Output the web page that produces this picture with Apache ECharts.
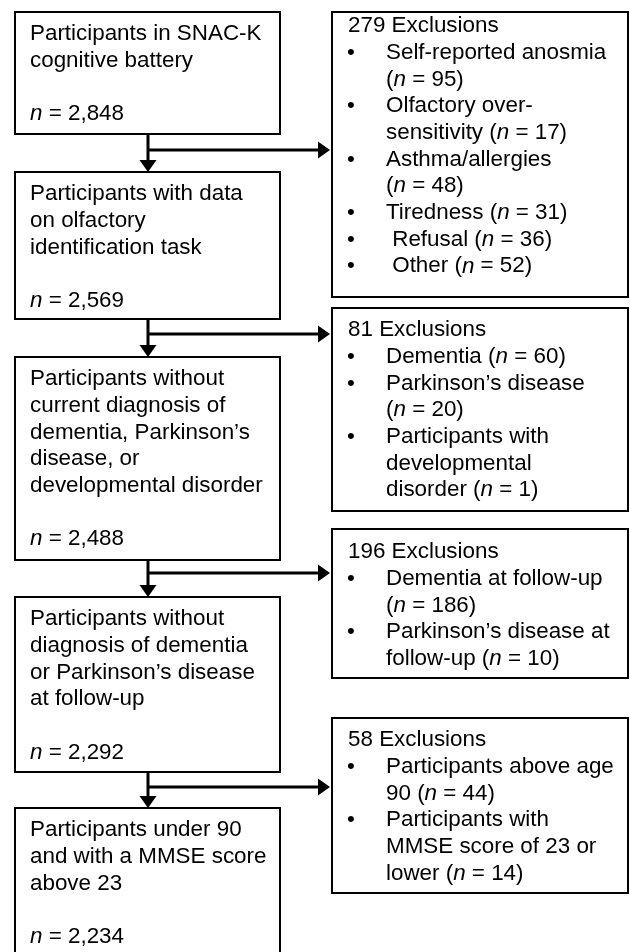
<!DOCTYPE html>
<html>
<head>
<meta charset="utf-8">
<script src="https://cdn.jsdelivr.net/npm/echarts@6/dist/echarts.min.js"></script>
<style>
  html, body { margin: 0; padding: 0; background: #fff; }
  #chart-container { width: 630px; height: 952px; }
</style>
</head>
<body>
<div id="chart-container"></div>
<script>
// flow stages (left column)
var stageLines = [
  ['Participants in SNAC-K', 'cognitive battery'],
  ['Participants with data', 'on olfactory', 'identification task'],
  ['Participants without', 'current diagnosis of', 'dementia, Parkinson\u2019s', 'disease, or', 'developmental disorder'],
  ['Participants without', 'diagnosis of dementia', 'or Parkinson\u2019s disease', 'at follow-up'],
  ['Participants under 90', 'and with a MMSE score', 'above 23']
];
var stageCounts = ['2,848', '2,569', '2,488', '2,292', '2,234'];

// exclusions (right column)
var exclusionTotals = [279, 81, 196, 58];
var reasonLines = [
  [['Self-reported anosmia', ''], ['Olfactory over-', 'sensitivity '], ['Asthma/allergies', ''], ['Tiredness '], [' Refusal '], [' Other ']],
  [['Dementia '], ['Parkinson\u2019s disease', ''], ['Participants with', 'developmental', 'disorder ']],
  [['Dementia at follow-up', ''], ['Parkinson\u2019s disease at', 'follow-up ']],
  [['Participants above age', '90 '], ['Participants with', 'MMSE score of 23 or', 'lower ']]
];
var reasonCounts = [
  [95, 17, 48, 31, 36, 52],
  [60, 20, 1],
  [186, 10],
  [44, 14]
];

// layout (pixel space of the hidden axes)
var leftX = [15, 280];
var rightX = [332, 628];
var leftBoxY = [[12, 134], [172, 319], [357, 560], [597, 772], [808, 990]];
var rightBoxY = [[12, 297], [308, 511], [529, 678], [718, 893]];
var headerY = [26, 330, 552, 740];
var branchY = [150, 334, 573, 787];
var stemX = 148;
var LH = 26.7;

var FONT_FAMILY = '"Liberation Sans", Arial, Helvetica, sans-serif';
var FONT_SIZE = 22.4;
var rich = { i: { fontStyle: 'italic', fontSize: FONT_SIZE, fontFamily: FONT_FAMILY, fill: '#000' } };

function textEl(x, y, str) {
  return {
    type: 'text',
    x: x,
    y: y,
    style: {
      text: str,
      fontSize: FONT_SIZE,
      fontFamily: FONT_FAMILY,
      fill: '#000',
      verticalAlign: 'middle',
      align: 'left',
      rich: rich
    }
  };
}

function boxEl(p0, p1) {
  return {
    type: 'rect',
    shape: { x: p0[0], y: p0[1], width: p1[0] - p0[0], height: p1[1] - p0[1] },
    style: { fill: '#fff', stroke: '#000', lineWidth: 2 }
  };
}

function renderStage(params, api) {
  var i = params.dataIndex;
  var p0 = api.coord([leftX[0], leftBoxY[i][0]]);
  var p1 = api.coord([leftX[1], leftBoxY[i][1]]);
  var lines = stageLines[i].concat(['', '{i|n} = ' + stageCounts[i]]);
  var children = [boxEl(p0, p1)];
  lines.forEach(function (l, k) {
    if (l) children.push(textEl(p0[0] + 15, p0[1] + 22 + k * LH, l));
  });
  return { type: 'group', children: children };
}

function renderExclusion(params, api) {
  var i = params.dataIndex;
  var p0 = api.coord([rightX[0], rightBoxY[i][0]]);
  var p1 = api.coord([rightX[1], rightBoxY[i][1]]);
  var y0 = api.coord([0, headerY[i]])[1];
  var children = [boxEl(p0, p1)];
  children.push(textEl(p0[0] + 16, y0, exclusionTotals[i] + ' Exclusions'));
  var k = 1;
  reasonLines[i].forEach(function (item, r) {
    children.push(textEl(p0[0] + 15, y0 + k * LH, '\u2022'));
    item.forEach(function (l, j) {
      var s = l;
      if (j === item.length - 1) s = l + '({i|n} = ' + reasonCounts[i][r] + ')';
      children.push(textEl(p0[0] + 54, y0 + k * LH, s));
      k++;
    });
  });
  return { type: 'group', children: children };
}

function renderArrow(params, api) {
  var i = params.dataIndex;
  var a = api.coord([stemX, leftBoxY[i][1]]);
  var b = api.coord([stemX, leftBoxY[i + 1][0]]);
  var c = api.coord([stemX, branchY[i]]);
  var d = api.coord([rightX[0] - 2, branchY[i]]);
  var head = 12, half = 8.5;
  var lineStyle = { stroke: '#000', lineWidth: 3 };
  return {
    type: 'group',
    children: [
      { type: 'line', shape: { x1: a[0], y1: a[1], x2: b[0], y2: b[1] - head + 1 }, style: lineStyle },
      { type: 'polygon', shape: { points: [[b[0] - half, b[1] - head], [b[0] + half, b[1] - head], [b[0], b[1]]] }, style: { fill: '#000' } },
      { type: 'line', shape: { x1: c[0], y1: c[1], x2: d[0] - head + 1, y2: d[1] }, style: lineStyle },
      { type: 'polygon', shape: { points: [[d[0] - head, d[1] - half], [d[0] - head, d[1] + half], [d[0], d[1]]] }, style: { fill: '#000' } }
    ]
  };
}

var dom = document.getElementById('chart-container');
var myChart = echarts.init(dom, null, { renderer: 'canvas' });

var option = {
  backgroundColor: '#fff',
  animation: false,
  grid: { left: 0, right: 0, top: 0, bottom: 0 },
  xAxis: { type: 'value', min: 0, max: 630, show: false },
  yAxis: { type: 'value', min: 0, max: 952, inverse: true, show: false },
  series: [
    {
      type: 'custom',
      name: 'arrows',
      silent: true,
      clip: false,
      renderItem: renderArrow,
      data: exclusionTotals.map(function (v, i) { return [i]; })
    },
    {
      type: 'custom',
      name: 'stages',
      silent: true,
      clip: false,
      renderItem: renderStage,
      data: stageCounts.map(function (v, i) { return [i]; })
    },
    {
      type: 'custom',
      name: 'exclusions',
      silent: true,
      clip: false,
      renderItem: renderExclusion,
      data: exclusionTotals.map(function (v, i) { return [v]; })
    }
  ]
};

myChart.setOption(option);
window.addEventListener('resize', myChart.resize);
</script>
</body>
</html>
